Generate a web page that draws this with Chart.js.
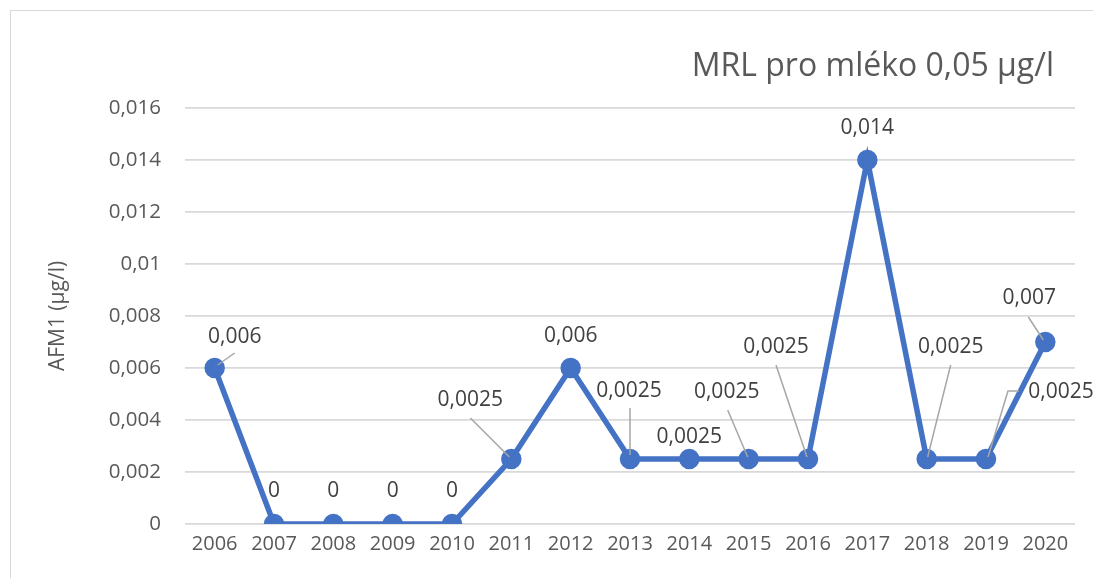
<!DOCTYPE html>
<html>
<head>
<meta charset="utf-8">
<script src="https://cdn.jsdelivr.net/npm/chart.js@4/dist/chart.umd.min.js"></script>
<style>
  html, body { margin: 0; padding: 0; background: #fff; }
  #wrap { position: relative; width: 1093px; height: 578px; overflow: hidden; }
  #frame { position: absolute; left: 10px; top: 10px; width: 1200px; height: 700px; border: 1px solid #d9d9d9; }
  canvas { position: absolute; left: 0; top: 0; }
</style>
</head>
<body>
<div id="wrap">
  <div id="frame"></div>
  <canvas id="myChart" width="1093" height="578"></canvas>
</div>
<script>
// data
const years = ['2006', '2007', '2008', '2009', '2010', '2011', '2012', '2013', '2014', '2015', '2016', '2017', '2018', '2019', '2020'];
const afm1 = [0.006, 0, 0, 0, 0, 0.0025, 0.006, 0.0025, 0.0025, 0.0025, 0.0025, 0.014, 0.0025, 0.0025, 0.007];
const valueLabels = ['0,006', '0', '0', '0', '0', '0,0025', '0,006', '0,0025', '0,0025', '0,0025', '0,0025', '0,014', '0,0025', '0,0025', '0,007'];
const yTicks = [0, 0.002, 0.004, 0.006, 0.008, 0.01, 0.012, 0.014, 0.016];
const yTickLabels = ['0', '0,002', '0,004', '0,006', '0,008', '0,01', '0,012', '0,014', '0,016'];

// label placement relative to the point (px), and leader lines
const labelOffsets = [[20, -31], [0, -33], [0, -33], [0, -33], [0, -33], [-41, -59], [0, -32], [-1, -68], [0, -22], [-22, -67], [-32, -112], [0, -32], [24, -112], [75, -67], [-16, -44]];
const leaders = [
  [[3, -3], [20, -15]], null, null, null, null,
  [[-2, -2], [-41, -41]], null,
  [[0, -4], [0, -51]], null,
  [[-1, -2], [-21, -49]],
  [[-1, -2], [-32, -94]], null,
  [[1, -2], [24, -94]],
  [[2, -2], [22, -68], [33, -68]],
  [[-2, -2], [-17, -25]]
];

const fontFamily = '"Open Sans", sans-serif';
const textGray = '#595959';

const labelPlugin = {
  id: 'labels',
  afterDatasetsDraw(chart) {
    const ctx = chart.ctx;
    const meta = chart.getDatasetMeta(0);
    ctx.save();
    // leader lines
    ctx.strokeStyle = '#a6a6a6';
    ctx.lineWidth = 1.5;
    meta.data.forEach((pt, i) => {
      const l = leaders[i];
      if (!l) return;
      ctx.beginPath();
      l.forEach((p, j) => {
        if (j === 0) ctx.moveTo(pt.x + p[0], pt.y + p[1]);
        else ctx.lineTo(pt.x + p[0], pt.y + p[1]);
      });
      ctx.stroke();
    });
    ctx.fillStyle = '#404040';
    ctx.font = '21px ' + fontFamily;
    ctx.textAlign = 'center';
    ctx.textBaseline = 'middle';
    meta.data.forEach((pt, i) => {
      ctx.fillText(valueLabels[i], pt.x + labelOffsets[i][0], pt.y + labelOffsets[i][1]);
    });
    // chart title
    ctx.fillStyle = textGray;
    ctx.font = '32px ' + fontFamily;
    ctx.textAlign = 'right';
    ctx.fillText('MRL pro mléko 0,05 µg/l', 1054, 67);
    ctx.restore();
  }
};

var ctx = document.getElementById('myChart').getContext('2d');
// eslint-disable-next-line no-unused-vars
var chart = new Chart(ctx, {
  type: 'line',
  data: {
    labels: years,
    datasets: [{
      label: 'AFM1',
      data: afm1,
      borderColor: '#4472C4',
      backgroundColor: '#4472C4',
      borderWidth: 5.5,
      pointRadius: 7.5,
      pointHoverRadius: 7.5,
      tension: 0
    }]
  },
  options: {
    responsive: false,
    animation: false,
    layout: { padding: { left: 20, right: 18, top: 108, bottom: 0 } },
    plugins: {
      legend: { display: false },
      tooltip: { enabled: false }
    },
    scales: {
      x: {
        offset: true,
        grid: { display: false, drawTicks: false },
        border: { display: false },
        ticks: { color: textGray, font: { family: fontFamily, size: 20 }, padding: 8, maxRotation: 0 },
        afterFit(scale) { scale.height = 54; }
      },
      y: {
        min: 0,
        max: 0.016,
        grid: { color: '#d9d9d9', lineWidth: 1.8, drawTicks: false },
        border: { display: false },
        afterBuildTicks(scale) { scale.ticks = yTicks.map(v => ({ value: v })); },
        ticks: {
          color: textGray,
          font: { family: fontFamily, size: 20.5 },
          padding: 24,
          callback: (v, i) => yTickLabels[i]
        },
        title: {
          display: true,
          text: 'AFM1 (µg/l)',
          color: textGray,
          font: { family: fontFamily, size: 21 },
          padding: { top: 25, bottom: 0 }
        },
        afterFit(scale) { scale.width = 165; }
      }
    }
  },
  plugins: [labelPlugin]
});
</script>
</body>
</html>
